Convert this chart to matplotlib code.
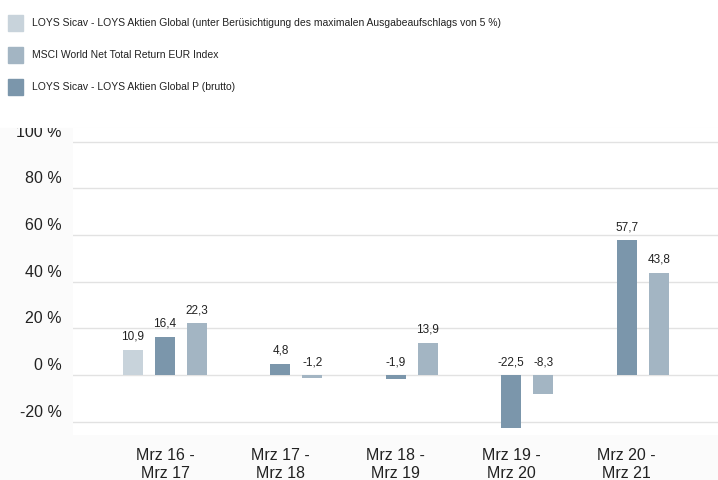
import numpy as np
import matplotlib
matplotlib.use("Agg")
import matplotlib.pyplot as plt
from matplotlib.patches import Rectangle
from matplotlib.transforms import ScaledTranslation, Bbox

plt.rcParams['font.family'] = ['Liberation Sans', 'DejaVu Sans']

# ===== DATA =====
categories = ["Mrz 16 -\nMrz 17", "Mrz 17 -\nMrz 18", "Mrz 18 -\nMrz 19",
              "Mrz 19 -\nMrz 20", "Mrz 20 -\nMrz 21"]
fund_with_fee = [10.9, np.nan, np.nan, np.nan, np.nan]
fund_gross = [16.4, 4.8, -1.9, -22.5, 57.7]
msci_world = [22.3, -1.2, 13.9, -8.3, 43.8]

legend_labels = [
    "LOYS Sicav - LOYS Aktien Global (unter Berüsichtigung des maximalen Ausgabeaufschlags von 5 %)",
    "MSCI World Net Total Return EUR Index",
    "LOYS Sicav - LOYS Aktien Global P (brutto)",
]
yticks = [-20, 0, 20, 40, 60, 80, 100]

# ===== STYLE =====
c_light = "#c8d3db"
c_mid = "#a3b5c3"
c_dark = "#7b96ab"
text_col = "#222222"
grid_col = "#e2e2e2"

W, H = 718, 480
fig = plt.figure(figsize=(W / 100, H / 100), dpi=100)
fig.patch.set_facecolor("white")

# faint grey behind the chart block
fig.patches.append(Rectangle((0, 0), 1, (H - 128) / H, transform=fig.transFigure,
                             color="#fbfbfb", zorder=-10))

ax = fig.add_axes([73 / W, (H - 435) / H, 1 - 73 / W, (435 - 128) / H])
ax.set_facecolor("white")

x = np.arange(len(categories))
width = 0.173
offset = 0.277
series = [(fund_with_fee, -offset, c_light),
          (fund_gross, 0.0, c_dark),
          (msci_world, offset, c_mid)]

for vals, dx, col in series:
    for xi, v in zip(x, vals):
        if np.isnan(v):
            continue
        ax.bar(xi + dx, v, width=width, color=col, zorder=3)
        ax.annotate(f"{v:.1f}".replace(".", ","), (xi + dx, max(v, 0)),
                    xytext=(0, 5), textcoords="offset points",
                    ha="center", va="bottom", fontsize=8.5, color=text_col)

ax.set_xlim(-0.797, 4.79)
ax.set_ylim(-25.7, 105.9)

ax.set_yticks(yticks)
ax.set_yticklabels([f"{t} %" for t in yticks])
ax.yaxis.grid(True, color=grid_col, linewidth=1.0, zorder=0)
ax.set_xticks(x)
ax.set_xticklabels(categories, linespacing=1.25)

ax.tick_params(axis="y", length=0, pad=8, labelsize=11.5, labelcolor=text_col)
ax.tick_params(axis="x", length=0, pad=9, labelsize=11.5, labelcolor=text_col)
for s in ax.spines.values():
    s.set_visible(False)

# y labels sit a little above their gridlines, top one is cut off by the chart box
shift = ScaledTranslation(0, 8 / 72, fig.dpi_scale_trans)
clip = Bbox([[0, 0], [W, H - 128]])
for lab in ax.get_yticklabels():
    lab.set_transform(lab.get_transform() + shift)
    lab.set_clip_box(clip)
    lab.set_clip_on(True)

# ===== LEGEND =====
leg_rows = [(23, c_light), (55, c_mid), (87, c_dark)]
for (yc, col), label in zip(leg_rows, legend_labels):
    fig.patches.append(Rectangle((8 / W, (H - yc - 8) / H), 15 / W, 16 / H,
                                 transform=fig.transFigure, color=col))
    fig.text(32 / W, (H - yc) / H, label, fontsize=7.5, color=text_col,
             va="center", ha="left")

fig.savefig("out.png", dpi=100)
